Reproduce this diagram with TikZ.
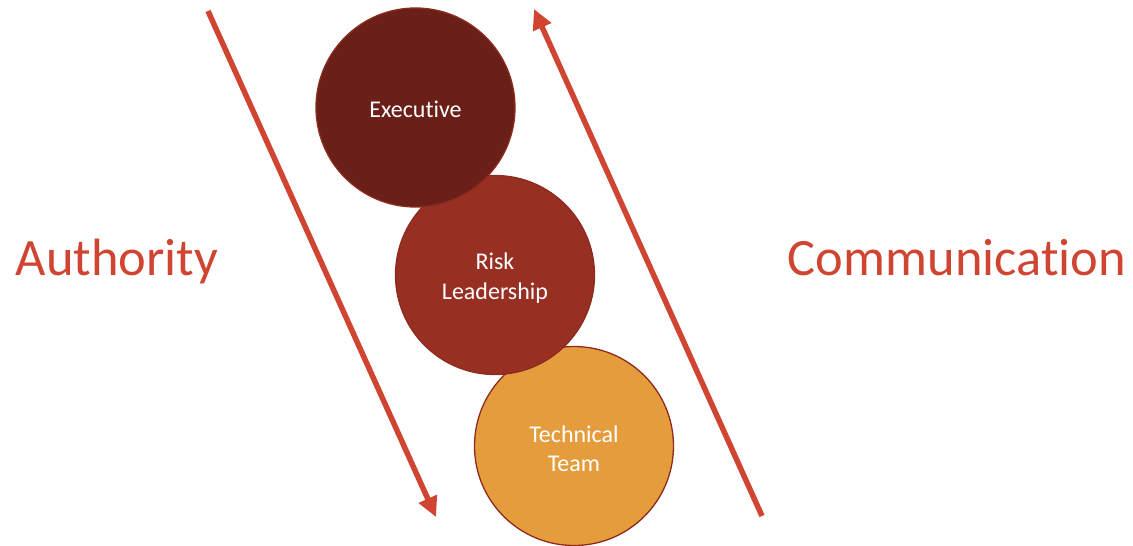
\documentclass[tikz,border=0pt]{standalone}
\usepackage{fontspec}
\setmainfont{Carlito}[Ligatures={NoCommon,NoRare,NoDiscretionary}]
\usetikzlibrary{arrows.meta}
\definecolor{arrowred}{HTML}{D04532}
\definecolor{execc}{HTML}{6A2018}
\definecolor{riskc}{HTML}{972F22}
\definecolor{techc}{HTML}{E59C3C}
\definecolor{rimc}{HTML}{8E2A1F}
\tikzset{
  bubble/.style={circle, minimum size=199pt, inner sep=0pt, draw=rimc, line width=1.3pt},
  bubbletext/.style={text=white, align=center, font=\fontsize{24}{29.5}\selectfont, inner sep=0pt},
  flow/.style={draw=arrowred, line width=5.5pt, -{Triangle[length=20pt,width=19pt]}},
  sidelabel/.style={text=arrowred, font=\fontsize{52.5}{60}\selectfont, inner sep=0pt}
}
\begin{document}
\begin{tikzpicture}[x=1pt,y=-1pt]
\useasboundingbox (0,0) rectangle (1133,546);
\node[bubble, fill=techc] (tech) at (574,446) {};
\node[bubbletext] (techt) at (574,449) {Technical\\Team};
\node[bubble, fill=riskc] (risk) at (495,275) {};
\node[bubbletext] (riskt) at (495,278) {Risk\\Leadership};
\node[bubble, fill=execc] (exec) at (415.5,107.5) {};
\node[bubbletext, anchor=base] (exect) at (415.5,117) {Executive};
\coordinate (a1) at (208,11);
\coordinate (a2) at (436,517);
\coordinate (c1) at (762,516);
\coordinate (c2) at (534,9);
\draw[flow] (a1) -- (a2);
\draw[flow] (c1) -- (c2);
\node[sidelabel, anchor=base] (auth) at (117,275) {Authority};
\node[sidelabel, anchor=base] (comm) at (957,275) {Communication};
\end{tikzpicture}
\end{document}
